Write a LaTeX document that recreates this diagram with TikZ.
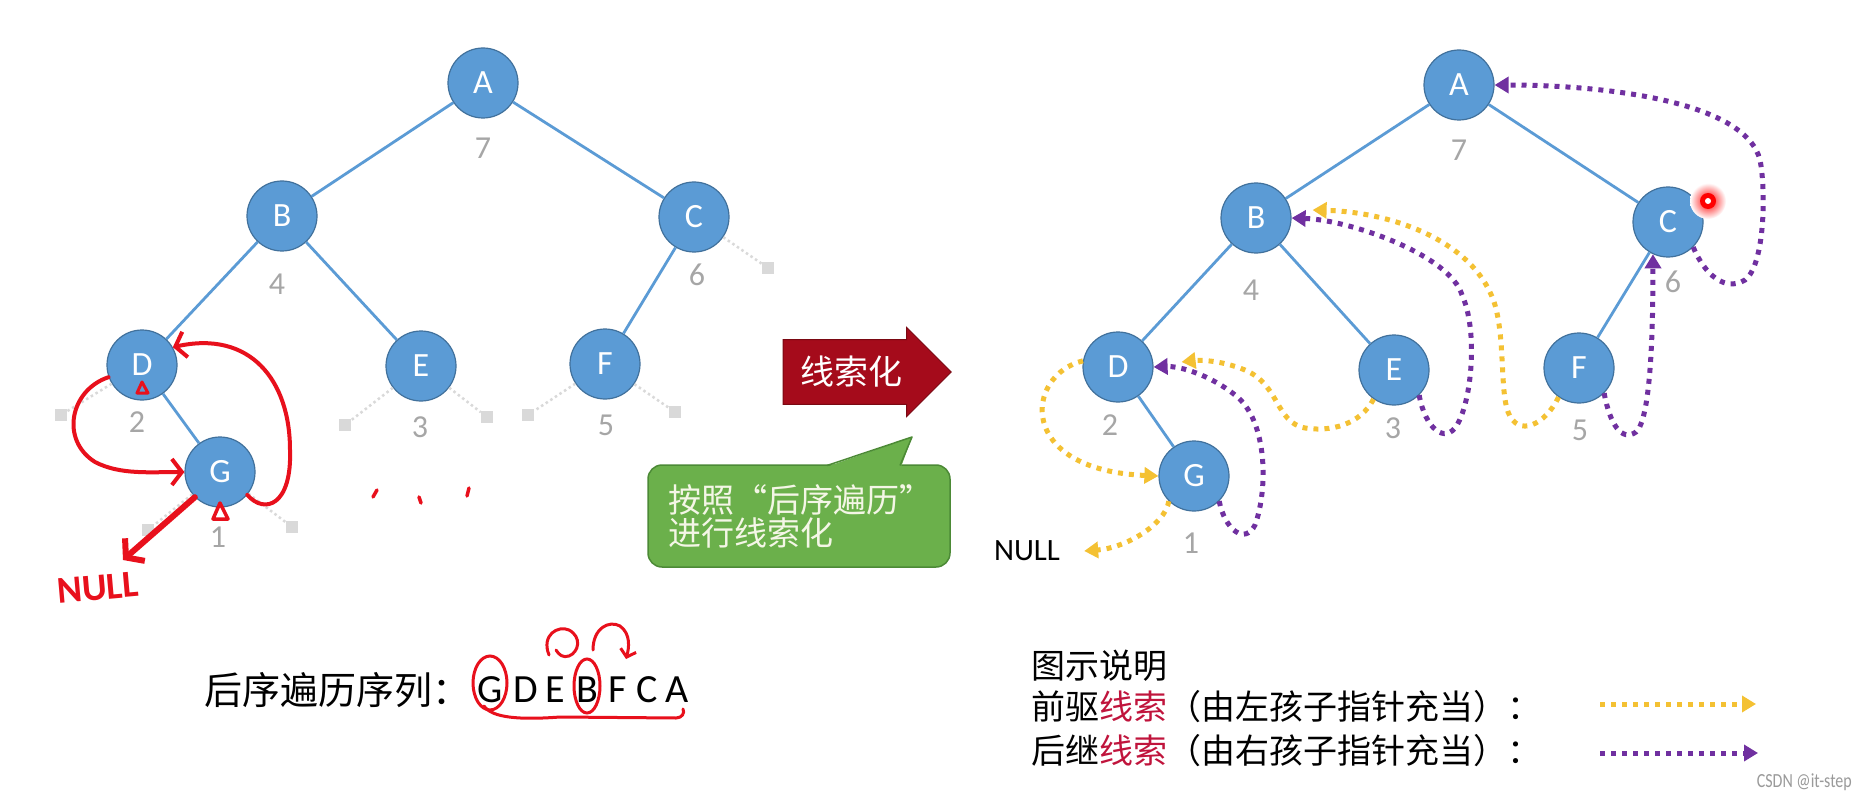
\documentclass[tikz,border=0pt]{standalone}
\usepackage{fontspec}
\setmainfont{Carlito}
\newfontfamily\cjk{Noto Sans CJK SC}
\usetikzlibrary{arrows.meta,shapes.arrows,calc}
\definecolor{nodeblue}{HTML}{5B9BD5}
\definecolor{nodeborder}{HTML}{41719C}
\definecolor{edgeblue}{HTML}{5B9BD5}
\definecolor{numgrey}{HTML}{A6A6A6}
\definecolor{sqgrey}{HTML}{D9D9D9}
\definecolor{thyellow}{HTML}{F4C133}
\definecolor{thpurple}{HTML}{7030A0}
\definecolor{annred}{HTML}{E8101C}
\definecolor{arrred}{HTML}{A50B1B}
\definecolor{arrborder}{HTML}{7A0812}
\definecolor{callgreen}{HTML}{6BB04B}
\definecolor{callborder}{HTML}{4C8A36}
\definecolor{calltext}{HTML}{F4F6E6}
\definecolor{legred}{HTML}{C0143C}
\definecolor{wmgrey}{HTML}{9A9A9A}
\tikzset{
  tnode/.style={circle, fill=nodeblue, draw=nodeborder, line width=1.2pt, minimum size=70pt, inner sep=0pt, text=white, font=\fontsize{34}{34}\selectfont},
  tedge/.style={draw=edgeblue, line width=2.8pt},
  num/.style={text=numgrey, inner sep=0pt, font=\fontsize{32}{32}\selectfont},
  nullsq/.style={rectangle, fill=sqgrey, minimum size=12pt, inner sep=0pt},
  nulledge/.style={draw=sqgrey, line width=2.5pt, dash pattern=on 2.5pt off 3pt},
  ythread/.style={draw=thyellow, line width=5pt, dash pattern=on 5pt off 6pt, -{Triangle[length=14pt,width=16pt]}},
  pthread/.style={draw=thpurple, line width=5pt, dash pattern=on 5pt off 6pt, -{Triangle[length=14pt,width=16pt]}},
  redann/.style={draw=annred, line width=4pt, line cap=round, line join=round},
  barb/.style={-{Straight Barb[length=10pt,width=26pt]}},
  legtext/.style={anchor=west, inner sep=0pt, font=\cjk\fontsize{34}{34}\selectfont},
  seqlet/.style={inner sep=0pt, font=\fontsize{40}{40}\selectfont},
}
\begin{document}
\begin{tikzpicture}[x=1pt,y=-1pt]
\useasboundingbox (0,0) rectangle (1858,805);
\fill[white] (0,0) rectangle (1858,805);

% ---------------- left tree ----------------
\node[tnode] (lA) at (483,83) {A};
\node[tnode] (lB) at (282,216) {B};
\node[tnode] (lC) at (694,217) {C};
\node[tnode] (lD) at (142,365) {D};
\node[tnode] (lE) at (421,366) {E};
\node[tnode] (lF) at (605,364) {F};
\node[tnode] (lG) at (220,472) {G};
\draw[tedge] (lA) -- (lB);
\draw[tedge] (lA) -- (lC);
\draw[tedge] (lB) -- (lD);
\draw[tedge] (lB) -- (lE);
\draw[tedge] (lC) -- (lF);
\draw[tedge] (lD) -- (lG);
\node[num] (ln7) at (483,148) {7};
\node[num] (ln4) at (277,284) {4};
\node[num] (ln6) at (697,275) {6};
\node[num] (ln2) at (137,422) {2};
\node[num] (ln3) at (420,427) {3};
\node[num] (ln5) at (606,425) {5};
\node[num] (ln1) at (218,537) {1};
% null leaves
\node[nullsq] (sq1) at (61,415) {};
\node[nullsq] (sq2) at (148,530) {};
\node[nullsq] (sq3) at (292,527) {};
\node[nullsq] (sq4) at (345,425) {};
\node[nullsq] (sq5) at (487,417) {};
\node[nullsq] (sq6) at (528,415) {};
\node[nullsq] (sq7) at (675,412) {};
\node[nullsq] (sq8) at (768,268) {};
\draw[nulledge] (lD) -- (sq1);
\draw[nulledge] (lG) -- (sq2);
\draw[nulledge] (lG) -- (sq3);
\draw[nulledge] (lE) -- (sq4);
\draw[nulledge] (lE) -- (sq5);
\draw[nulledge] (lF) -- (sq6);
\draw[nulledge] (lF) -- (sq7);
\draw[nulledge] (lC) -- (sq8);

% red handwriting on left tree
\node[text=annred, inner sep=0pt, font=\fontsize{38}{38}\selectfont\bfseries, rotate=5] (nullL) at (98,588) {NULL};
\coordinate (nullLtip) at (123,560);
\draw[redann, barb] (lD.200) .. controls (70,390) and (60,440) .. (95,462) .. controls (120,475) and (150,472) .. (lG.west);
\draw[redann, barb] (lG.320) .. controls (265,515) and (292,505) .. (290,450) .. controls (290,380) and (250,330) .. (lD.30);
\draw[redann, line width=6pt, -{Straight Barb[length=12pt,width=30pt]}] (lG.225) -- (nullLtip);
\draw[annred, line width=3pt, line join=round] (137,393) -- (142,382) -- (148,393) -- cycle;
\draw[annred, line width=3.5pt, line join=round] (213,519) -- (220,503) -- (228,519) -- cycle;
\draw[redann, line width=3.5pt] (377,490) -- (373,497);
\draw[redann, line width=3.5pt] (419,497) -- (421,503);
\draw[redann, line width=3.5pt] (469,488) -- (467,496);

% sequence
\node[anchor=west, inner sep=0pt, font=\cjk\fontsize{38}{38}\selectfont] (seq) at (204,690) {后序遍历序列：};
\node[seqlet] (sG) at (490,690) {G};
\node[seqlet] (sD) at (526,690) {D};
\node[seqlet] (sE) at (555,690) {E};
\node[seqlet] (sB) at (587,690) {B};
\node[seqlet] (sF) at (618,690) {F};
\node[seqlet] (sC) at (647,690) {C};
\node[seqlet] (sA) at (677,690) {A};
\draw[annred, line width=3pt] (490,683) ellipse [x radius=17pt, y radius=27pt];
\draw[annred, line width=3pt] (587,686) ellipse [x radius=13pt, y radius=27pt];
\draw[redann, line width=3pt] (484,706) .. controls (492,718) and (520,720) .. (560,717) -- (676,718) .. controls (682,718) and (685,713) .. (683,709);
\draw[redann, line width=3pt] (549,655) .. controls (541,635) and (558,625) .. (569,630) .. controls (582,637) and (579,652) .. (569,656) .. controls (563,658) and (559,655) .. (556,650);
\draw[redann, line width=3pt, -{Straight Barb[length=7pt,width=16pt]}] (593,650) .. controls (593,628) and (609,620) .. (620,626) .. controls (631,634) and (629,648) .. (626,659);

% ---------------- middle ----------------
\node[single arrow, fill=arrred, draw=arrborder, line width=1pt, minimum height=168pt, minimum width=89pt, inner ysep=3pt, inner xsep=6pt, text=white, font=\cjk\fontsize{34}{34}\selectfont] (thr) at (851,372) {线索化};
\node[rectangle, rounded corners=14pt, fill=callgreen, draw=callborder, line width=1.5pt, minimum width=302pt, minimum height=102pt, text width=262pt, inner xsep=20pt, align=left, text=calltext, font=\cjk\fontsize{33}{33}\selectfont] (call) at (799,516) {按照“后序遍历”\\进行线索化};
\fill[callgreen] (826,467) -- (912,437) -- (901,467) -- cycle;
\draw[callborder, line width=1.5pt, line join=round] (827,465.5) -- (912,437) -- (900,465.5);

% ---------------- right tree ----------------
\node[tnode] (rA) at (1459,85) {A};
\node[tnode] (rB) at (1256,218) {B};
\node[tnode] (rC) at (1668,222) {C};
\node[tnode] (rD) at (1118,367) {D};
\node[tnode] (rE) at (1394,370) {E};
\node[tnode] (rF) at (1579,368) {F};
\node[tnode] (rG) at (1194,476) {G};
\draw[tedge] (rA) -- (rB);
\draw[tedge] (rA) -- (rC);
\draw[tedge] (rB) -- (rD);
\draw[tedge] (rB) -- (rE);
\draw[tedge] (rC) -- (rF);
\draw[tedge] (rD) -- (rG);
\node[num] (rn7) at (1459,150) {7};
\node[num] (rn4) at (1251,290) {4};
\node[num] (rn6) at (1673,282) {6};
\node[num] (rn2) at (1110,425) {2};
\node[num] (rn3) at (1393,428) {3};
\node[num] (rn5) at (1580,430) {5};
\node[num] (rn1) at (1191,543) {1};
\node[inner sep=0pt, font=\fontsize{31}{31}\selectfont] (nullR) at (1027,551) {NULL};

% predecessor threads (yellow)
\draw[ythread] (rG.225) .. controls (1165,525) and (1125,548) .. ([xshift=24pt]nullR.east);
\draw[ythread] (rD.170) .. controls (1025,375) and (1015,470) .. (rG.west);
\draw[ythread] (rE.235) .. controls (1360,425) and (1330,432) .. (1305,428) .. controls (1275,422) and (1280,385) .. (1245,370) .. controls (1220,360) and (1200,360) .. ([xshift=28pt,yshift=5pt]rD.east);
\draw[ythread] (rF.235) .. controls (1545,425) and (1518,438) .. (1508,412) .. controls (1500,390) and (1505,340) .. (1495,305) .. controls (1475,240) and (1390,212) .. ([xshift=21pt,yshift=8pt]rB.east);
% successor threads (purple)
\draw[pthread] (rG.315) .. controls (1225,530) and (1245,545) .. (1255,525) .. controls (1268,490) and (1268,420) .. (1235,395) .. controls (1210,375) and (1180,366) .. (rD.east);
\draw[pthread] (rE.315) .. controls (1425,428) and (1445,445) .. (1457,425) .. controls (1472,400) and (1478,330) .. (1462,295) .. controls (1450,255) and (1350,220) .. (rB.east);
\draw[pthread] (rF.315) .. controls (1610,425) and (1622,442) .. (1636,432) .. controls (1650,420) and (1653,340) .. (rC.245);
\draw[pthread] (rC.315) .. controls (1705,275) and (1725,292) .. (1745,280) .. controls (1765,265) and (1766,190) .. (1760,160) .. controls (1745,100) and (1600,85) .. (rA.east);

% laser dot
\shade[inner color=red, outer color=white] (1708,201) circle (18pt);
\fill[red] (1708,201) circle (8pt);
\fill[white] (1708,201) circle (3pt);

% ---------------- legend ----------------
\node[legtext] (leg0) at (1031,666) {图示说明};
\node[legtext] (leg1) at (1031,707) {前驱\textcolor{legred}{线索}（由左孩子指针充当）：};
\node[legtext] (leg2) at (1031,751) {后继\textcolor{legred}{线索}（由右孩子指针充当）：};
\coordinate (ly0) at (1600,704);
\coordinate (ly1) at (1756,704);
\coordinate (lp0) at (1600,753);
\coordinate (lp1) at (1758,753);
\draw[ythread] (ly0) -- (ly1);
\draw[pthread] (lp0) -- (lp1);

\node[text=wmgrey, anchor=east, inner sep=0pt, xscale=0.8, font=\fontsize{20}{20}\selectfont] (wm) at (1852,782) {CSDN @it-step};
\end{tikzpicture}
\end{document}
